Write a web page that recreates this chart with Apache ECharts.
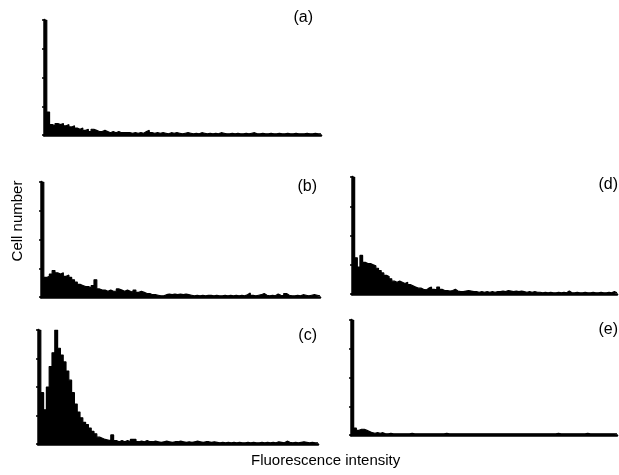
<!DOCTYPE html>
<html>
<head>
<meta charset="utf-8">
<script src="https://cdn.jsdelivr.net/npm/echarts@6/dist/echarts.min.js"></script>
<style>
html,body{margin:0;padding:0;background:#fff;}
#chart{width:619px;height:475px;}
</style>
</head>
<body>
<div id="chart"></div>
<script>
// Histogram counts (percent of full panel height) per fluorescence channel bin
const panelA = [100,20,9,8,10,9,10,8,9,7, 8,6,5,6,4,5,3,5,4,3, 3,4,3,2,3,2,3,2,2,2, 2,1.5,2,1.5,2,1.5,3,4,2,1.5, 2,1.5,2,1.5,1,2,1.5,2,1.5,1, 1.5,2,1.5,1,1.5,1,2,1.5,1,1.5, 1,1.5,1,2,1.5,1,1,1.5,1,1.5, 1,1,1.5,1,1.5,2,1,1,1.5,1, 1,1.5,1,1,1.5,1,1,1.5,1,1, 1.5,1,1,1,1.5,1,1,1.5,1,1];
const panelB = [100,17,18,20,23,21,20,21,18,19, 17,15,13,11,10,9,9,8,10,15, 7,6,6,5,6,5,5,7,6,5, 6,5,4,6,4,5,4,3,3,2, 2,1.5,1,1,2,2.5,2,2.5,2,2.5, 2,2.5,2,1.5,1,1.5,1,1.5,1,1.5, 1.5,1,1.5,1,1,1.5,1,1.5,1,1.5, 1,1.5,1,2,3.5,1.5,1,1.5,2,3, 1.5,1,1.5,1,2.5,1.5,1,3,1.5,1, 1,1.5,1,2,1.5,1,1.5,2,1.5,1];
const panelC = [100,45,30,50,68,80,100,84,78,72, 64,56,45,35,28,23,19,17,14,11, 9,6,5,4,3.5,3,8,3,2,3, 2,3,2,4,4,2,2.5,2,3,2, 2,2.5,2,1.5,2,2.5,2,1.5,2,2, 2.5,2,1.5,2,1.5,2,2.5,2,1.5,2, 2,1.5,2,1.5,1,1.5,1,1.5,1,1.5, 1,1.5,1,1,1.5,1,1.5,1,1,1.5, 1,1.5,1,1.5,1,2,1.5,1,2.5,1.5, 1,1.5,1,1.5,2,1.5,1,1.5,1,1];
const panelD = [100,31,23,33,27,26,26,25,24,22, 20,18,16,15,13,11,10,11,10,9, 10,8,7,6,5,5,4,3.5,5,6, 4,3.5,6,4,3,3,2.5,3,4,2.5, 2,2,2.5,3,2.5,2,2,1.5,2,1.5, 2,1.5,2,1.5,2,2,2.5,2,3,2.5, 2,2.5,2,2.5,2,1.5,2,1.5,2,1.5, 1.5,1,1.5,1,1.5,1,1,1.5,1,1.5, 1,2.5,1,1,1.5,1,1,1.5,1,1, 1.5,1,1,1.5,1,1,1.5,1,2,1];
const panelE = [100,6,4,5,5,4,3,2,1.5,2, 1.5,2,1,1,1.5,1,1,1,1,1, 1,1,1.5,1,1,1,1,1,1,1, 1,1,1,1,1,1.5,1,1,1,1, 1,1,1,1,1,1,1,1,1,1, 1,1,1,1,1,1,1,1,1,1, 1,1,1,1,1,1,1,1,1,1, 1,1,1,1,1,1,1,1.5,1,1, 1,1,1,1,1,1,1,1,1.5,1, 1,1,1,1,1,1,1,1,1,1];
const panelLabels = ['(a)','(b)','(c)','(d)','(e)'];
const xTitle = 'Fluorescence intensity';
const yTitle = 'Cell number';

const panels = [panelA, panelB, panelC, panelD, panelE];
const grids = [
  {left:44, top:20, width:277, height:115},
  {left:41, top:182, width:279, height:115},
  {left:38, top:330, width:280, height:114},
  {left:352, top:177, width:265, height:117},
  {left:351, top:320, width:266, height:115}
];
const labelPos = [[313,18],[317,187],[317,336],[618,185],[618,330]];
const ink = '#000';
const font = '"Liberation Sans", Arial, Helvetica, sans-serif';

const chart = echarts.init(document.getElementById('chart'), null, {renderer:'canvas'});
const option = {
  animation:false,
  backgroundColor:'#fff',
  grid: grids.map(g => Object.assign({containLabel:false}, g)),
  xAxis: panels.map((p,i) => ({
    type:'value', gridIndex:i, min:0, max:p.length,
    axisLine:{show:true, onZero:false, lineStyle:{color:ink, width:2.5}},
    axisTick:{show:false}, axisLabel:{show:false}, splitLine:{show:false}
  })),
  yAxis: panels.map((p,i) => ({
    type:'value', gridIndex:i, min:0, max:100, interval:25,
    axisLine:{show:true, lineStyle:{color:ink, width:2.5}},
    axisTick:{show:true, length:2, lineStyle:{color:ink, width:1.5}},
    axisLabel:{show:false}, splitLine:{show:false}
  })),
  series: panels.map((p,i) => ({
    type:'line', xAxisIndex:i, yAxisIndex:i, step:'end', symbol:'none',
    data: p.map((v,k)=>[k,v]).concat([[p.length, p[p.length-1]]]),
    lineStyle:{color:ink, width:1.2},
    areaStyle:{color:ink, opacity:1}
  })),
  graphic: panelLabels.map((t,i) => ({
    type:'text', x:labelPos[i][0], y:labelPos[i][1],
    style:{text:t, fill:ink, font:'16px ' + font, textAlign:'right', textVerticalAlign:'middle'}
  })).concat([
    {type:'text', x:251, y:461, style:{text:xTitle, fill:ink, font:'15px ' + font, textAlign:'left', textVerticalAlign:'middle'}},
    {type:'text', x:18, y:221, rotation:Math.PI/2, style:{text:yTitle, fill:ink, font:'15px ' + font, textAlign:'center', textVerticalAlign:'middle'}}
  ])
};
chart.setOption(option);
</script>
</body>
</html>
